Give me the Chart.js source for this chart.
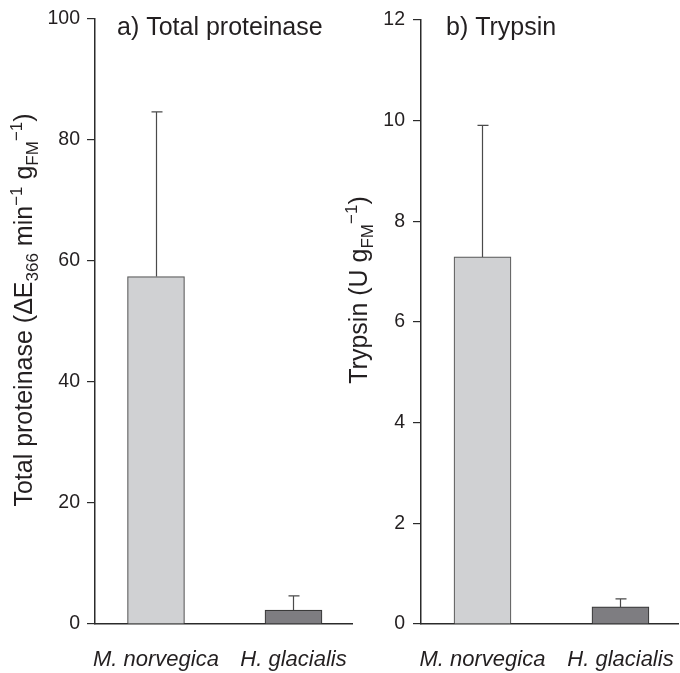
<!DOCTYPE html>
<html>
<head>
<meta charset="utf-8">
<script src="https://cdn.jsdelivr.net/npm/chart.js@4.4.1/dist/chart.umd.min.js"></script>
<style>
  body { margin: 0; background: #fff; }
  #wrap { position: relative; width: 680px; height: 673px; }
  .panel { position: absolute; top: 0; height: 673px; }
  #left { left: 0; width: 362px; }
  #right { left: 330px; width: 350px; }
</style>
</head>
<body>
<div id="wrap">
  <div class="panel" id="left"><canvas id="chartA"></canvas></div>
  <div class="panel" id="right"><canvas id="chartB"></canvas></div>
</div>
<script>
// data
const species = ["M. norvegica", "H. glacialis"];
const proteinase = [57.4, 2.3];
const proteinaseSd = [27.2, 2.35];
const trypsin = [7.29, 0.34];
const trypsinSd = [2.61, 0.16];
const proteinaseTicks = [0, 20, 40, 60, 80, 100];
const trypsinTicks = [0, 2, 4, 6, 8, 10, 12];
const barFill = ["#d0d1d3", "#7e7d81"];
const barEdge = ["#5a5a5a", "#3a3a3a"];

const FONT = "'Liberation Sans', Arial, Helvetica, sans-serif";
const INK = "#231f20";
const AXIS = "#2b2b2b";

Chart.defaults.font.family = FONT;
Chart.defaults.color = INK;

// error bars (upper only) drawn from bar top
const errorBars = {
  id: "errorBars",
  afterDatasetsDraw(chart, args, opts) {
    const ctx = chart.ctx;
    const ys = chart.scales.y;
    const data = chart.data.datasets[0].data;
    chart.getDatasetMeta(0).data.forEach((bar, i) => {
      const top = ys.getPixelForValue(data[i].y + opts.sd[i]);
      const x = Math.round(bar.x) + 0.5;
      ctx.save();
      ctx.strokeStyle = "#4a4a4a";
      ctx.lineWidth = 1.2;
      ctx.beginPath();
      ctx.moveTo(x, bar.y);
      ctx.lineTo(x, top);
      ctx.moveTo(x - 5, top);
      ctx.lineTo(x + 6, top);
      ctx.stroke();
      ctx.restore();
    });
  }
};

// panel letter title + rotated y title with sub/superscripts
const labels = {
  id: "labels",
  afterDraw(chart, args, opts) {
    const ctx = chart.ctx;
    const area = chart.chartArea;
    ctx.save();
    ctx.fillStyle = INK;
    ctx.textBaseline = "alphabetic";
    ctx.font = "25px " + FONT;
    ctx.fillText(opts.panel, area.left + opts.panelDx, 35);

    const big = 25, small = 17;
    const widthOf = seg => {
      ctx.font = (seg[1] === "n" ? big : small) + "px " + FONT;
      return ctx.measureText(seg[0]).width;
    };
    const total = opts.yTitle.reduce((s, seg) => s + widthOf(seg), 0);
    ctx.translate(opts.yx, opts.yy);
    ctx.rotate(-Math.PI / 2);
    let x = -total / 2;
    opts.yTitle.forEach(seg => {
      const w = widthOf(seg);
      const dy = seg[1] === "sub" ? 6 : seg[1] === "sup" ? -10 : 0;
      ctx.fillText(seg[0], x, dy);
      x += w;
    });
    ctx.restore();
  }
};

function makeChart(id, values, sd, ticks, yMax, opt) {
  return new Chart(document.getElementById(id), {
    type: "bar",
    data: {
      datasets: [{
        data: species.map((s, i) => ({ x: i, y: values[i] })),
        backgroundColor: barFill,
        borderColor: barEdge,
        borderWidth: 1.2,
        barThickness: 57
      }]
    },
    options: {
      responsive: true,
      maintainAspectRatio: false,
      animation: false,
      layout: { padding: { left: 0, top: 15, right: opt.padRight, bottom: 0 } },
      plugins: {
        legend: { display: false },
        tooltip: { enabled: false },
        errorBars: { sd: sd },
        labels: opt.labels
      },
      scales: {
        x: {
          type: "linear",
          offset: false,
          min: opt.xMin,
          max: opt.xMax,
          afterBuildTicks: s => { s.ticks = species.map((n, i) => ({ value: i })); },
          afterFit: s => {
            s.height = 49;
            // labels sit well inside the axis, no edge overflow padding needed
            s.paddingLeft = 0;
            s.paddingRight = 0;
          },
          ticks: {
            callback: v => species[v],
            font: { size: 22, style: "italic" },
            padding: 23,
            maxRotation: 0,
            autoSkip: false
          },
          grid: { display: false, drawTicks: false },
          border: { display: true, color: AXIS, width: 1.5 }
        },
        y: {
          min: 0,
          max: yMax,
          afterBuildTicks: s => { s.ticks = ticks.map(v => ({ value: v })); },
          afterFit: s => { s.width = opt.yWidth; },
          ticks: { font: { size: 19.5 }, padding: opt.tickPad },
          grid: { drawOnChartArea: false, drawTicks: true, tickLength: 8, color: AXIS, lineWidth: 1.2 },
          border: { display: true, color: AXIS, width: 1.5 }
        }
      }
    },
    plugins: [errorBars, labels]
  });
}

makeChart("chartA", proteinase, proteinaseSd, proteinaseTicks, 100, {
  padRight: 10, xMin: -0.4436, xMax: 1.4255, yWidth: 95, tickPad: 7,
  labels: {
    panel: "a) Total proteinase", panelDx: 22, yx: 32, yy: 310,
    yTitle: [["Total proteinase (ΔE", "n"], ["366", "sub"], [" min", "n"], ["−1", "sup"],
             [" g", "n"], ["FM", "sub"], ["−1", "sup"], [")", "n"]]
  }
});

makeChart("chartB", trypsin, trypsinSd, trypsinTicks, 12, {
  padRight: 2, xMin: -0.4457, xMax: 1.417, yWidth: 91, tickPad: 8,
  labels: {
    panel: "b) Trypsin", panelDx: 25, yx: 37, yy: 290,
    yTitle: [["Trypsin (U g", "n"], ["FM", "sub"], ["−1", "sup"], [")", "n"]]
  }
});
</script>
</body>
</html>
